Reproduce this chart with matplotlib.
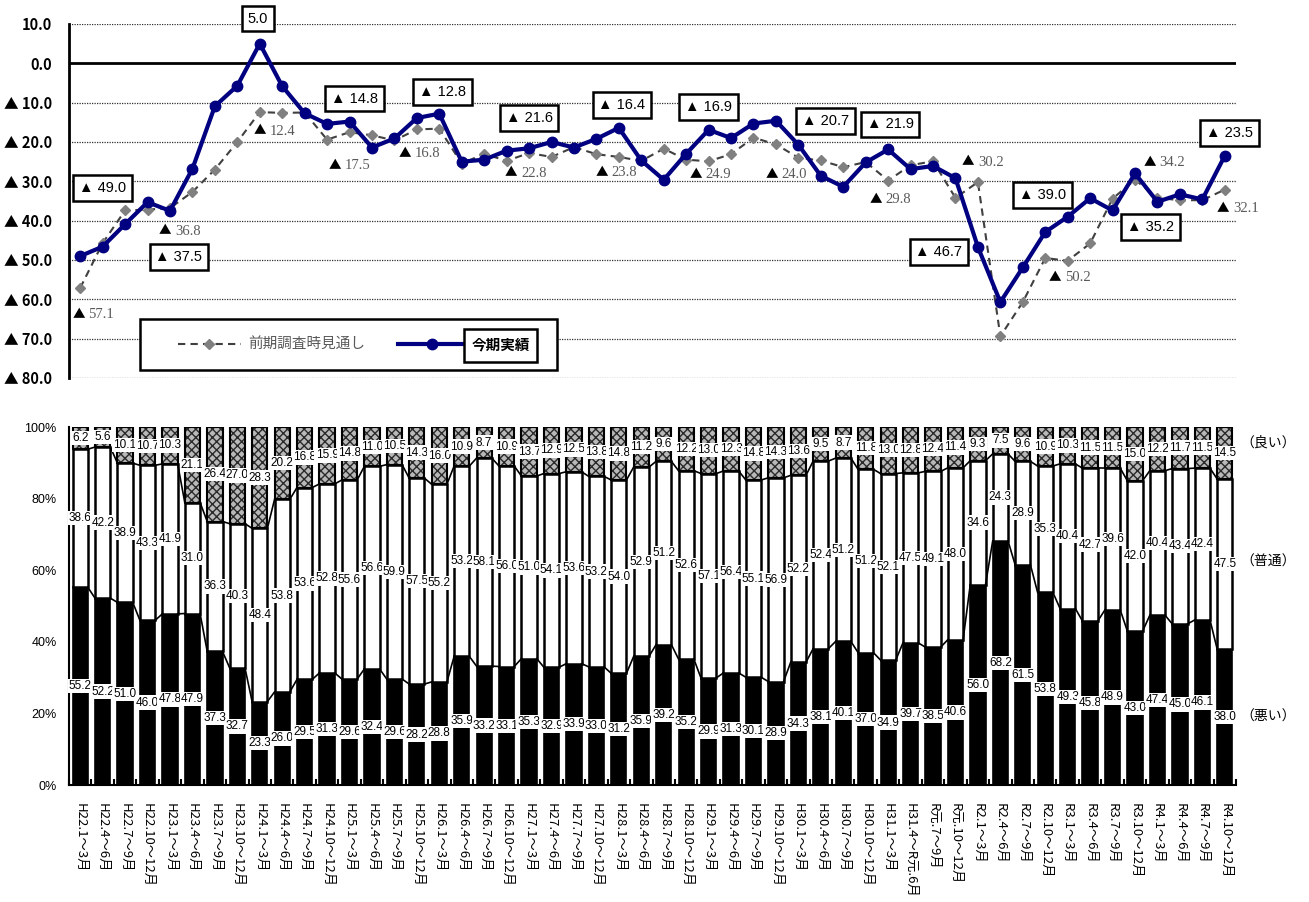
import numpy as np
import matplotlib
matplotlib.use('Agg')
import matplotlib.pyplot as plt
from matplotlib.patches import Rectangle
from matplotlib.lines import Line2D

plt.rcParams['font.family'] = ['Noto Sans CJK JP', 'DejaVu Sans']

periods = ['H22.1～3月', 'H22.4～6月', 'H22.7～9月', 'H22.10～12月',
           'H23.1～3月', 'H23.4～6月', 'H23.7～9月', 'H23.10～12月',
           'H24.1～3月', 'H24.4～6月', 'H24.7～9月', 'H24.10～12月',
           'H25.1～3月', 'H25.4～6月', 'H25.7～9月', 'H25.10～12月',
           'H26.1～3月', 'H26.4～6月', 'H26.7～9月', 'H26.10～12月',
           'H27.1～3月', 'H27.4～6月', 'H27.7～9月', 'H27.10～12月',
           'H28.1～3月', 'H28.4～6月', 'H28.7～9月', 'H28.10～12月',
           'H29.1～3月', 'H29.4～6月', 'H29.7～9月', 'H29.10～12月',
           'H30.1～3月', 'H30.4～6月', 'H30.7～9月', 'H30.10～12月',
           'H31.1～3月', 'H31.4～R元.6月', 'R元.7～9月', 'R元.10～12月',
           'R2.1～3月', 'R2.4～6月', 'R2.7～9月', 'R2.10～12月',
           'R3.1～3月', 'R3.4～6月', 'R3.7～9月', 'R3.10～12月',
           'R4.1～3月', 'R4.4～6月', 'R4.7～9月', 'R4.10～12月']

# 今期実績 (DI)
actual = [-49.0, -46.6, -40.9, -35.3, -37.5, -26.8, -10.9, -5.7, 5.0, -5.8,
          -12.7, -15.4, -14.8, -21.4, -19.1, -13.9, -12.8, -25.0, -24.5, -22.2,
          -21.6, -20.0, -21.4, -19.2, -16.4, -24.7, -29.6, -23.0, -16.9, -19.0,
          -15.3, -14.6, -20.7, -28.6, -31.4, -25.2, -21.9, -26.9, -26.1, -29.2,
          -46.7, -60.7, -51.9, -42.9, -39.0, -34.3, -37.4, -28.0, -35.2, -33.3,
          -34.6, -23.5]

# 前期調査時見通し
forecast = [-57.1, -45.7, -37.4, -37.2, -36.8, -32.7, -27.0, -20.0, -12.4, -12.6,
            -12.5, -19.4, -17.5, -18.3, -19.6, -16.8, -16.6, -25.5, -23.0, -24.8,
            -22.8, -23.8, -21.3, -23.1, -23.8, -24.8, -21.7, -24.5, -24.9, -23.1,
            -18.9, -20.6, -24.0, -24.7, -26.4, -25.1, -29.8, -25.9, -24.9, -34.2,
            -30.2, -69.4, -60.7, -49.5, -50.2, -45.8, -34.4, -29.6, -34.2, -34.8,
            -34.8, -32.1]

# 構成比 (%)
bad = [55.2, 52.2, 51.0, 46.0, 47.8, 47.9, 37.3, 32.7, 23.3, 26.0,
       29.5, 31.3, 29.6, 32.4, 29.6, 28.2, 28.8, 35.9, 33.2, 33.1,
       35.3, 32.9, 33.9, 33.0, 31.2, 35.9, 39.2, 35.2, 29.9, 31.3,
       30.1, 28.9, 34.3, 38.1, 40.1, 37.0, 34.9, 39.7, 38.5, 40.6,
       56.0, 68.2, 61.5, 53.8, 49.3, 45.8, 48.9, 43.0, 47.4, 45.0,
       46.1, 38.0]
normal = [38.6, 42.2, 38.9, 43.3, 41.9, 31.0, 36.3, 40.3, 48.4, 53.8,
          53.6, 52.8, 55.6, 56.6, 59.9, 57.5, 55.2, 53.2, 58.1, 56.0,
          51.0, 54.1, 53.6, 53.2, 54.0, 52.9, 51.2, 52.6, 57.1, 56.4,
          55.1, 56.9, 52.2, 52.4, 51.2, 51.2, 52.1, 47.5, 49.1, 48.0,
          34.6, 24.3, 28.9, 35.3, 40.4, 42.7, 39.6, 42.0, 40.4, 43.4,
          42.4, 47.5]
good = [6.2, 5.6, 10.1, 10.7, 10.3, 21.1, 26.4, 27.0, 28.3, 20.2,
        16.8, 15.9, 14.8, 11.0, 10.5, 14.3, 16.0, 10.9, 8.7, 10.9,
        13.7, 12.9, 12.5, 13.8, 14.8, 11.2, 9.6, 12.2, 13.0, 12.3,
        14.8, 14.3, 13.6, 9.5, 8.7, 11.8, 13.0, 12.8, 12.4, 11.4,
        9.3, 7.5, 9.6, 10.9, 10.3, 11.5, 11.5, 15.0, 12.2, 11.7,
        11.5, 14.5]

W, H = 1309, 902


def fx(px):
    return px / W


def fy(py):
    return 1 - py / H


def tri(v):
    return f'{v:.1f}' if v >= 0 else f'▲ {-v:.1f}'


x = np.arange(len(periods))
bad = np.array(bad)
normal = np.array(normal)
good = np.array(good)

fig = plt.figure(figsize=(W / 100, H / 100), dpi=100)

# ---- 上段: DI 推移 ----
ax1 = fig.add_axes([fx(69), fy(378), (1236 - 69) / W, (378 - 24) / H])
yt = np.arange(10, -81, -10)
for v in yt:
    if v != 0:
        ax1.axhline(v, color='#333333', lw=0.9, ls=(0, (1, 1)), zorder=1)
ax1.axhline(0, color='black', lw=2, zorder=2)

ax1.plot(x, forecast, color='#404040', lw=1.5, ls=(0, (3.5, 2.5)),
         marker='D', ms=5.5, mfc='#808080', mec='#808080', zorder=3)
ax1.plot(x, actual, color='#000080', lw=3, marker='o', ms=7.5, zorder=4)

ax1.set_xlim(-0.5, len(x) - 0.5)
ax1.set_ylim(-80, 10)
ax1.set_xticks([])
ax1.set_yticks(yt, [tri(v) for v in yt])
ax1.tick_params(axis='y', length=0, pad=12, labelsize=10.5)
for lab in ax1.get_yticklabels():
    lab.set_fontweight('bold')
for s in ['top', 'right', 'bottom']:
    ax1.spines[s].set_visible(False)
ax1.spines['left'].set_linewidth(2)

# 今期実績のラベル (枠付き)
act_pos = {0: (22, 68), 4: (9, -46), 8: (-2, 25), 12: (5, 23), 16: (3, 22),
           20: (0, 30), 24: (3, 23), 28: (0, 23), 32: (27, 24), 36: (2, 25),
           40: (-39, -5), 44: (-25, 22), 48: (-7, -25), 51: (5, 23)}
for i, (dx, dy) in act_pos.items():
    ax1.annotate(tri(actual[i]), (x[i], actual[i]), xytext=(dx, dy),
                 textcoords='offset pixels', ha='center', va='center',
                 fontsize=10.5, family=['Liberation Sans', 'DejaVu Sans'],
                 bbox=dict(boxstyle='square,pad=0.4', fc='white', ec='black', lw=1.8),
                 zorder=6)

# 見通しのラベル
fc_pos = {0: (-8, -27), 4: (-11, -23), 8: (-6, -19), 12: (-21, -33), 15: (-18, -24),
          20: (-24, -20), 24: (-23, -16), 28: (-19, -13), 32: (-33, -17),
          36: (-19, -19), 40: (-16, 20), 44: (-19, -17), 48: (-14, 35), 51: (-8, -19)}
for i, (dx, dy) in fc_pos.items():
    ax1.annotate('▲', (x[i], forecast[i]), xytext=(dx, dy),
                 textcoords='offset pixels', ha='left', va='center',
                 fontsize=9, color='black', zorder=6)
    ax1.annotate(f'{-forecast[i]:.1f}', (x[i], forecast[i]), xytext=(dx + 16, dy),
                 textcoords='offset pixels', ha='left', va='center',
                 fontsize=10.5, family='Liberation Serif', color='#595959', zorder=6)

# 凡例
fig.add_artist(Rectangle((fx(140), fy(370)), (557 - 140) / W, (370 - 319) / H,
                         transform=fig.transFigure, fc='white', ec='black', lw=1.8, zorder=5))
fig.add_artist(Line2D([fx(178), fx(241)], [fy(344), fy(344)], transform=fig.transFigure,
                      color='#404040', lw=1.5, ls=(0, (3.5, 2.5)), zorder=6))
fig.add_artist(Line2D([fx(209)], [fy(344)], transform=fig.transFigure, marker='D',
                      ms=5.5, mfc='#808080', mec='#808080', ls='none', zorder=7))
fig.text(fx(248), fy(344), '前期調査時見通し', ha='left', va='center',
         fontsize=10.5, color='#595959', zorder=7)
fig.add_artist(Line2D([fx(398), fx(464)], [fy(344), fy(344)], transform=fig.transFigure,
                      color='#000080', lw=3, zorder=6))
fig.add_artist(Line2D([fx(432)], [fy(344)], transform=fig.transFigure, marker='o',
                      ms=7.5, color='#000080', ls='none', zorder=7))
fig.add_artist(Rectangle((fx(464), fy(362)), (537 - 464) / W, (362 - 329) / H,
                         transform=fig.transFigure, fc='white', ec='black', lw=1.8, zorder=7))
fig.text(fx(500.5), fy(345), '今期実績', ha='center', va='center',
         fontsize=10.5, fontweight='bold', zorder=8)

# ---- 下段: 構成比 ----
ax2 = fig.add_axes([fx(69), fy(785), (1236 - 69) / W, (785 - 427) / H])
w = 0.68
ax2.bar(x, bad, w, color='black', edgecolor='black', lw=1.2, zorder=2)
ax2.bar(x, normal, w, bottom=bad, color='white', edgecolor='black', lw=1.8, zorder=2)
ax2.bar(x, good, w, bottom=bad + normal, color='#b8b8b8', edgecolor='#2a2a2a',
        lw=0, hatch='xxxx', zorder=2)
ax2.bar(x, good, w, bottom=bad + normal, fill=False, edgecolor='black', lw=1.5, zorder=2)

# 区分線
c1 = bad
c2 = bad + normal
for i in range(len(x) - 1):
    ax2.plot([x[i] + w / 2, x[i + 1] - w / 2], [c1[i], c1[i + 1]], color='black', lw=1.2, zorder=3)
    ax2.plot([x[i] + w / 2, x[i + 1] - w / 2], [c2[i], c2[i + 1]], color='black', lw=1.2, zorder=3)

box = dict(boxstyle='square,pad=0.1', fc='white', ec='none')
for i in x:
    for y0, v in [(bad[i] / 2, bad[i]),
                  (bad[i] + normal[i] / 2, normal[i]),
                  (bad[i] + normal[i] + good[i] / 2, good[i])]:
        ax2.text(i, y0, f'{v:.1f}', ha='center', va='center', fontsize=8.5,
                 family='Liberation Sans', bbox=box, zorder=5)

ax2.set_xlim(-0.5, len(x) - 0.5)
ax2.set_ylim(0, 100)
ax2.set_yticks(np.arange(0, 101, 20), [f'{v}%' for v in range(0, 101, 20)])
ax2.tick_params(axis='y', length=0, pad=9, labelsize=9)
for lab in ax2.get_yticklabels():
    lab.set_family('Liberation Sans')
ax2.set_xticks(x, periods, rotation=270, fontsize=9.5)
ax2.set_xticks(np.arange(-0.5, len(x)), minor=True)
ax2.tick_params(axis='x', which='major', length=0, pad=13)
ax2.tick_params(axis='x', which='minor', direction='in', length=4, width=1.5)
for s in ['top', 'right']:
    ax2.spines[s].set_visible(False)
ax2.spines['left'].set_linewidth(1.5)
ax2.spines['bottom'].set_linewidth(1.5)

fig.text(fx(1268), fy(443), '（良い）', ha='center', va='center', fontsize=10)
fig.text(fx(1268), fy(562), '（普通）', ha='center', va='center', fontsize=10)
fig.text(fx(1268), fy(717), '（悪い）', ha='center', va='center', fontsize=10)

fig.savefig('out.png', dpi=100)
